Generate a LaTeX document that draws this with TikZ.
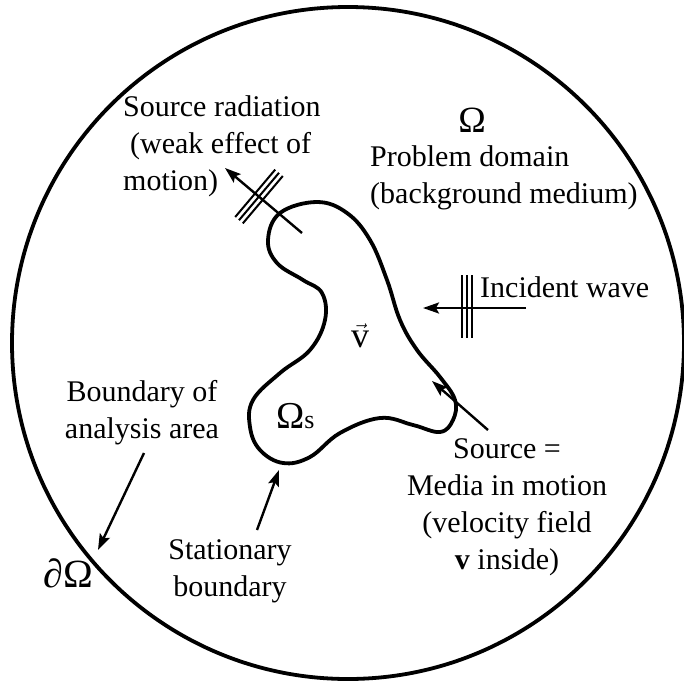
\documentclass[tikz,border=0pt]{standalone}
\usepackage{amsmath}
\usepackage{fontspec}
\setmainfont{Liberation Serif}
\usetikzlibrary{arrows.meta}
\begin{document}
\begin{tikzpicture}[x=1pt,y=-1pt,
  every node/.style={inner sep=0pt,font=\fontsize{30}{37}\selectfont},
  bigline/.style={line width=3.8pt},
  arr/.style={line width=2.4pt,-{Stealth[length=16pt,width=11pt,inset=3pt]}},
  hatch/.style={line width=2pt}]
\useasboundingbox (0,0) rectangle (684,686);
% outer domain boundary
\draw[bigline] (348,343) circle[radius=336];
% moving source region
\draw[bigline] plot[smooth cycle,tension=0.65] coordinates {
 (317,202) (347,213) (370,240) (387,280) (400,320) (417,350) (440,377)
 (455,400) (453,420) (440,432) (413,425) (380,418) (340,433) (310,457)
 (283,463) (260,450) (250,427) (253,400) (280,373) (310,350) (325,320)
 (322,293) (303,280) (277,263) (268,240) (280,213)};
% texts
\node[anchor=base] (om) at (472,132) {\fontsize{37}{37}\selectfont Ω};
\node[anchor=west,align=left] (pd) at (370,178) {Problem domain\\(background medium)};
\node[anchor=west,align=left] (sr) at (123,146) {Source radiation\\\hspace*{7pt}(weak effect of\\motion)};
\node[anchor=base west] (iw) at (480,297) {Incident wave};
\node[anchor=base] (v) at (360,347) {\fontsize{36}{37}\selectfont$\vec{\text{v}}$};
\node[anchor=base west] (oms) at (276,428) {{\fontsize{38}{37}\selectfont Ω}{\fontsize{26}{37}\selectfont s}};
\node[align=center] (ba) at (142,413) {Boundary of\\analysis area};
\node[anchor=base] (dom) at (68,587) {\fontsize{40}{40}\selectfont ∂Ω};
\node[align=center] (sb) at (230,571) {Stationary\\boundary};
\node[align=center] (src) at (507,507) {Source =\\Media in motion\\(velocity field\\\textbf{v} inside)};
% connectors
\coordinate (srA) at (302,233); \coordinate (srB) at (225,168);
\draw[arr] (srA) -- (srB);
\draw[hatch] (282.8,176.0) -- (242.8,223.4);
\draw[hatch] (279.0,172.8) -- (239.0,220.2);
\draw[hatch] (275.2,169.6) -- (235.2,217.0);
\coordinate (iwA) at (526,308); \coordinate (iwB) at (423,308);
\draw[arr] (iwA) -- (iwB);
\foreach \x in {462,467,472} \draw[hatch] (\x,275) -- (\x,338);
\coordinate (soA) at (488,430); \coordinate (soB) at (432,381);
\draw[arr] (soA) -- (soB);
\coordinate (baA) at (144,453); \coordinate (baB) at (98,550);
\draw[arr] (baA) -- (baB);
\coordinate (sbA) at (257,530); \coordinate (sbB) at (279,470);
\draw[arr] (sbA) -- (sbB);
\end{tikzpicture}
\end{document}
